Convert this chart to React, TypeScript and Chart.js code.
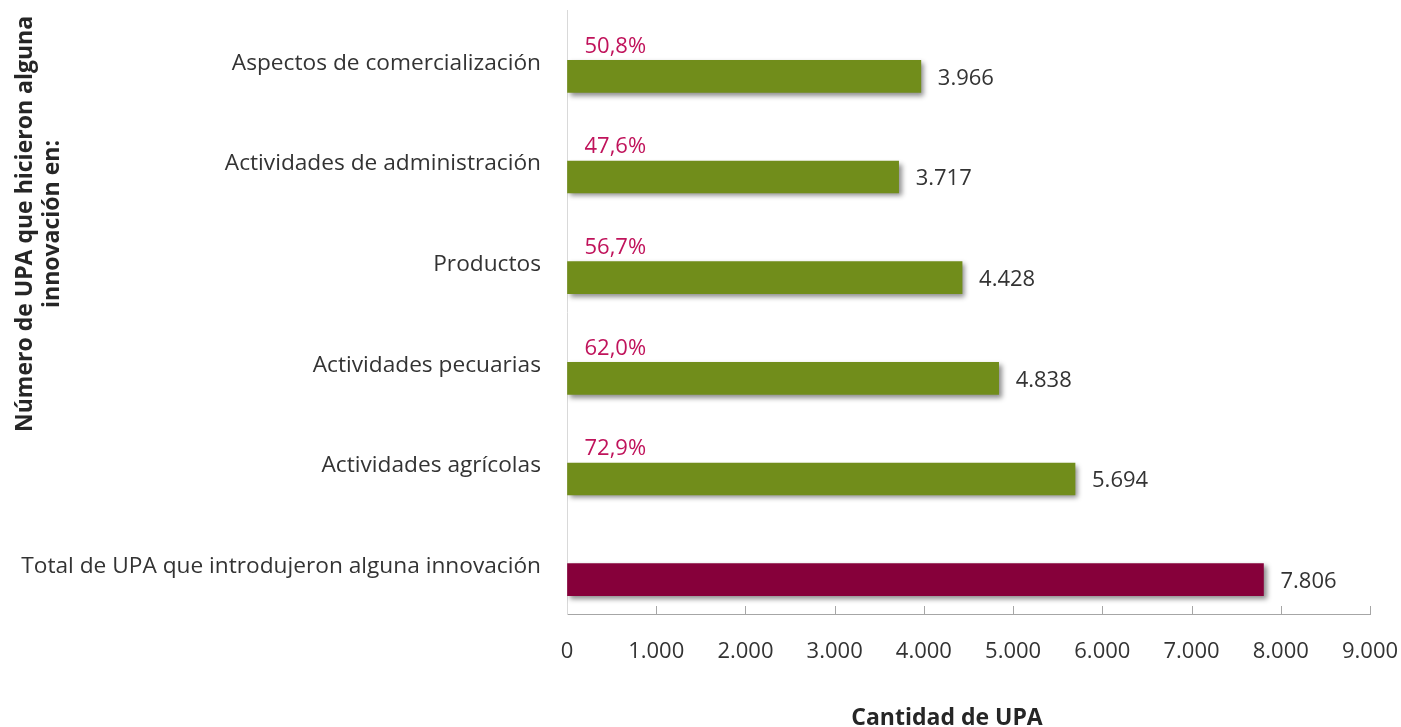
import React, { useEffect, useRef } from "react";
import { Chart, registerables } from "chart.js";

Chart.register(...registerables);

const categories: string[] = [
  "Aspectos de comercialización",
  "Actividades de administración",
  "Productos",
  "Actividades pecuarias",
  "Actividades agrícolas",
  "Total de UPA que introdujeron alguna innovación",
];
const upaValues: number[] = [3966, 3717, 4428, 4838, 5694, 7806];
const percentLabels: (string | null)[] = ["50,8%", "47,6%", "56,7%", "62,0%", "72,9%", null];
const xTickValues: number[] = [0, 1000, 2000, 3000, 4000, 5000, 6000, 7000, 8000, 9000];
const yTitleLines: string[] = ["Número de UPA que hicieron alguna", "innovación en:"];
const xTitle = "Cantidad de UPA";

const GREEN = "#718D1B";
const MAROON = "#86003A";
const PCT = "#C0135B";
const TEXT = "#333333";
const FONT = "'Open Sans', 'Noto Sans', sans-serif";

const fmt = (v: number) => v.toString().replace(/\B(?=(\d{3})+(?!\d))/g, ".");

export default function App() {
  const ref = useRef<HTMLCanvasElement | null>(null);
  useEffect(() => {
    document.body.style.margin = "0";
    const canvas = ref.current!;
    const shadowPlugin = {
      id: "barShadow",
      beforeDatasetDraw(chart: any, args: any) {
        if (args.index !== 1) return;
        const ctx = chart.ctx;
        ctx.save();
        ctx.shadowColor = "rgba(0,0,0,0.45)";
        ctx.shadowBlur = 5;
        ctx.shadowOffsetX = 3;
        ctx.shadowOffsetY = 3;
      },
      afterDatasetDraw(chart: any, args: any) {
        if (args.index !== 1) return;
        chart.ctx.restore();
      },
    };
    const decoPlugin = {
      id: "deco",
      afterDraw(chart: any) {
        const ctx = chart.ctx;
        const xs = chart.scales.x;
        const area = chart.chartArea;
        ctx.save();
        ctx.strokeStyle = "#A6A6A6";
        ctx.lineWidth = 1;
        xTickValues.forEach((v) => {
          if (v === 0) return;
          const px = Math.round(xs.getPixelForValue(v)) + 0.5;
          ctx.beginPath();
          ctx.moveTo(px, area.bottom);
          ctx.lineTo(px, area.bottom - 8);
          ctx.stroke();
        });
        const meta = chart.getDatasetMeta(1);
        ctx.font = `22px ${FONT}`;
        ctx.textBaseline = "middle";
        ctx.textAlign = "left";
        meta.data.forEach((bar: any, i: number) => {
          ctx.fillStyle = TEXT;
          ctx.fillText(fmt(upaValues[i]), bar.x + 17, bar.y + 2);
          const p = percentLabels[i];
          if (p) {
            ctx.fillStyle = PCT;
            ctx.fillText(p, bar.base + 17, bar.y - 30);
          }
        });
        ctx.fillStyle = "#262626";
        ctx.font = `bold 23px ${FONT}`;
        ctx.textAlign = "center";
        ctx.fillText(xTitle, 947, 718);
        ctx.translate(0, 224);
        ctx.rotate(-Math.PI / 2);
        yTitleLines.forEach((l, i) => {
          ctx.fillText(l, 0, 25 + i * 27);
        });
        ctx.restore();
      },
    };
    const chart = new Chart(canvas, {
      type: "bar",
      data: {
        labels: categories,
        datasets: [
          { label: "spacer", data: categories.map(() => null), backgroundColor: "transparent" },
          {
            label: "UPA",
            data: upaValues,
            backgroundColor: upaValues.map((_, i) => (i === upaValues.length - 1 ? MAROON : GREEN)),
            borderWidth: 0,
          },
        ],
      },
      options: {
        indexAxis: "y",
        animation: false,
        responsive: false,
        maintainAspectRatio: false,
        datasets: { bar: { barThickness: 32 } },
        layout: { padding: { top: 10, right: 31, left: 0, bottom: 0 } },
        plugins: { legend: { display: false }, tooltip: { enabled: false } },
        scales: {
          x: {
            min: 0,
            max: 9000,
            ticks: {
              stepSize: 1000,
              color: TEXT,
              font: { family: FONT, size: 22 },
              padding: 25,
              maxRotation: 0,
              callback: (v: any) => fmt(Number(v)),
            },
            grid: { display: true, drawOnChartArea: false, drawTicks: false },
            border: { display: true, color: "#A6A6A6", width: 1 },
            afterFit: (s: any) => {
              s.height = 113;
              s.paddingLeft = 0;
              s.paddingRight = 0;
              s.paddingTop = 0;
              s.paddingBottom = 0;
            },
          },
          y: {
            ticks: {
              color: TEXT,
              font: { family: FONT, size: 22.7 },
              padding: 26,
              labelOffset: 3,
            },
            grid: { display: true, drawOnChartArea: false, drawTicks: false },
            border: { display: true, color: "#D9D9D9", width: 1 },
            afterFit: (s: any) => {
              s.width = 567;
              s.paddingLeft = 0;
              s.paddingRight = 0;
              s.paddingTop = 0;
              s.paddingBottom = 0;
            },
          },
        },
      },
      plugins: [shadowPlugin, decoPlugin],
    });
    return () => chart.destroy();
  }, []);
  return (
    <div style={{ width: 1401, height: 727 }}>
      <canvas ref={ref} width={1401} height={727} style={{ display: "block" }} />
    </div>
  );
}
